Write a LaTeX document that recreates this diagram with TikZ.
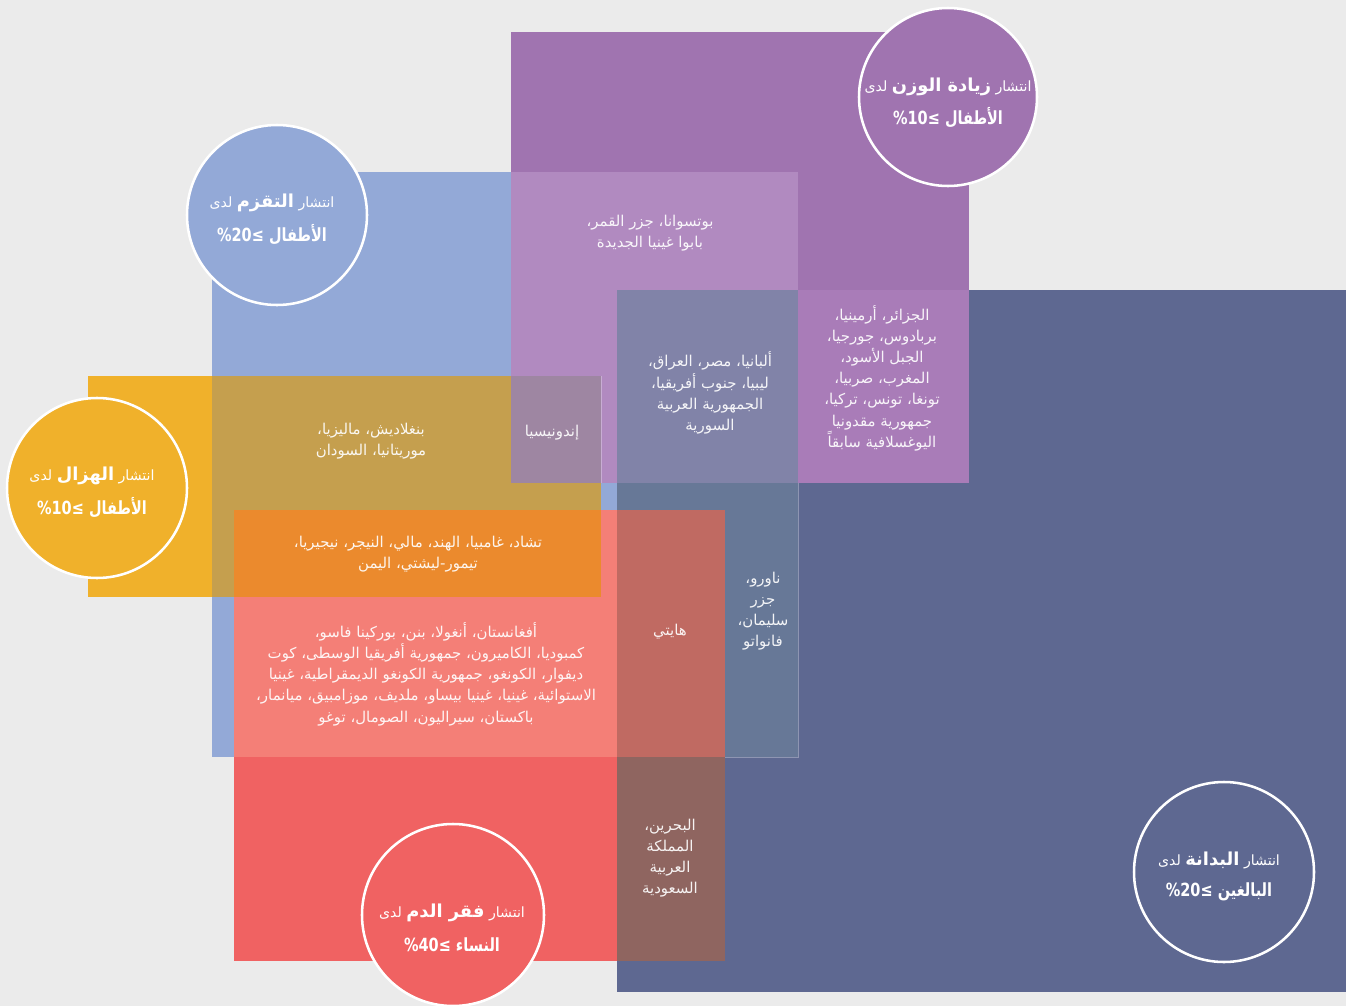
\documentclass[tikz,border=0pt]{standalone}
\usepackage{fontspec}
\TeXXeTstate=1
\newfontfamily\arabicfont[Script=Arabic]{DejaVu Sans}
\newfontfamily\latinfont{DejaVu Sans}
\newcommand\ar[1]{\beginR#1\endR}
\newcommand\ltr[1]{{\latinfont\beginL#1\endL}}
\newcommand\narrow[1]{\scalebox{0.8}[1]{#1}}
\definecolor{bgc}{HTML}{EBEBEB}
\definecolor{cpurple}{HTML}{A074B0}
\definecolor{cblue}{HTML}{93A9D7}
\definecolor{cnavy}{HTML}{5E6891}
\definecolor{cyellow}{HTML}{F0B12B}
\definecolor{cred}{HTML}{F06262}
\definecolor{cpb}{HTML}{B18AC0}
\definecolor{cpn}{HTML}{A97CB8}
\definecolor{cpbn}{HTML}{8183A8}
\definecolor{cbn}{HTML}{677897}
\definecolor{cyb}{HTML}{C59F4E}
\definecolor{cybp}{HTML}{9E86A2}
\definecolor{crb}{HTML}{F47F77}
\definecolor{cry}{HTML}{EB8A2D}
\definecolor{crbn}{HTML}{C06A62}
\definecolor{crn}{HTML}{8F6560}
\tikzset{
  body/.style={text=white, text opacity=0.92, align=center, inner sep=0pt,
    font=\arabicfont\fontsize{11.2}{15.9}\selectfont},
  circ/.style={draw=white, line width=1.9pt},
  titleA/.style={inner sep=0pt, font=\arabicfont\fontsize{10.6}{12}\selectfont},
  titleB/.style={inner sep=0pt, text=white, font=\arabicfont\bfseries\fontsize{13.6}{16}\selectfont},
  edge/.style={draw=white, draw opacity=0.3, line width=0.7pt}
}
\newcommand\ttl[3]{{\color{#3}#1} {\color{white}\bfseries\fontsize{13.4}{15}\selectfont #2} {\color{#3}لدى}}
\begin{document}
\begin{tikzpicture}[x=0.75pt,y=-0.75pt]
\useasboundingbox (0,0) rectangle (1346,1006);
\fill[bgc] (0,0) rectangle (1346,1006);
% base rectangles
\fill[cnavy] (617,290) rectangle (1346,992);
\fill[cpurple] (511,32) rectangle (969,483);
\fill[cblue] (212,172) rectangle (798,757);
\fill[cyellow] (88,376) rectangle (601,597);
% overlaps
\fill[cpb] (511,172) rectangle (798,483);
\fill[cpn] (798,290) rectangle (969,483);
\fill[cpbn] (617,290) rectangle (798,483);
\fill[cbn] (617,483) rectangle (798,757);
\draw[edge] (798,483) -- (798,757) -- (617,757);
\fill[cyb] (212,376) rectangle (601,597);
\fill[cybp] (511,376) rectangle (601,483);
\draw[edge] (601,376) -- (601,483);
\fill[cred] (234,510) rectangle (725,961);
\fill[crb] (234,510) rectangle (725,757);
\fill[cry] (234,510) rectangle (601,597);
\fill[crbn] (617,510) rectangle (725,757);
\fill[crn] (617,757) rectangle (725,961);
% region texts
\node[body] (t1) at (650,233) {\ar{بوتسوانا، جزر القمر،}\\\ar{بابوا غينيا الجديدة}};
\node[body] (t2) at (882,378) {\ar{الجزائر، أرمينيا،}\\\ar{بربادوس، جورجيا،}\\\ar{الجبل الأسود،}\\\ar{المغرب، صربيا،}\\\ar{تونغا، تونس، تركيا،}\\\ar{جمهورية مقدونيا}\\\ar{اليوغسلافية سابقاً}};
\node[body] (t3) at (710,393) {\ar{ألبانيا، مصر، العراق،}\\\ar{ليبيا، جنوب أفريقيا،}\\\ar{الجمهورية العربية}\\\ar{السورية}};
\node[body] (t4) at (552,433) {\ar{إندونيسيا}};
\node[body] (t5) at (371,441) {\ar{بنغلاديش، ماليزيا،}\\\ar{موريتانيا، السودان}};
\node[body] (t6) at (418,554) {\ar{تشاد، غامبيا، الهند، مالي، النيجر، نيجيريا،}\\\ar{تيمور-ليشتي، اليمن}};
\node[body] (t7) at (426,674) {\ar{أفغانستان، أنغولا، بنن، بوركينا فاسو،}\\\ar{كمبوديا، الكاميرون، جمهورية أفريقيا الوسطى، كوت}\\\ar{ديفوار، الكونغو، جمهورية الكونغو الديمقراطية، غينيا}\\\ar{الاستوائية، غينيا، غينيا بيساو، ملديف، موزامبيق، ميانمار،}\\\ar{باكستان، سيراليون، الصومال، توغو}};
\node[body] (t8) at (670,632) {\ar{هايتي}};
\node[body] (t9) at (763,611) {\ar{ناورو،}\\\ar{جزر}\\\ar{سليمان،}\\\ar{فانواتو}};
\node[body] (t10) at (670,858) {\ar{البحرين،}\\\ar{المملكة}\\\ar{العربية}\\\ar{السعودية}};
% circles
\filldraw[circ, fill=cpurple] (948,97) circle[radius=89];
\node[titleA] (c1a) at (948,87) {\ar{\ttl{انتشار}{زيادة الوزن}{white!82!cpurple}}};
\node[titleB] (c1b) at (948,118) {\narrow{\ar{الأطفال \ltr{\%10≤}}}};
\filldraw[circ, fill=cblue] (277,215) circle[radius=90];
\node[titleA] (c2a) at (272,203) {\ar{\ttl{انتشار}{التقزم}{white!82!cblue}}};
\node[titleB] (c2b) at (272,235) {\narrow{\ar{الأطفال \ltr{\%20≤}}}};
\filldraw[circ, fill=cyellow] (97,488) circle[radius=90];
\node[titleA] (c3a) at (92,476) {\ar{\ttl{انتشار}{الهزال}{white!82!cyellow}}};
\node[titleB] (c3b) at (92,508) {\narrow{\ar{الأطفال \ltr{\%10≤}}}};
\filldraw[circ, fill=cnavy] (1224,872) circle[radius=90];
\node[titleA] (c4a) at (1219,860) {\ar{\ttl{انتشار}{البدانة}{white!82!cnavy}}};
\node[titleB] (c4b) at (1219,892) {\narrow{\ar{البالغين \ltr{\%20≤}}}};
\filldraw[circ, fill=cred] (453,915) circle[radius=91];
\node[titleA] (c5a) at (452,913) {\ar{\ttl{انتشار}{فقر الدم}{white!82!cred}}};
\node[titleB] (c5b) at (452,945) {\narrow{\ar{النساء \ltr{\%40≤}}}};
\end{tikzpicture}
\end{document}
